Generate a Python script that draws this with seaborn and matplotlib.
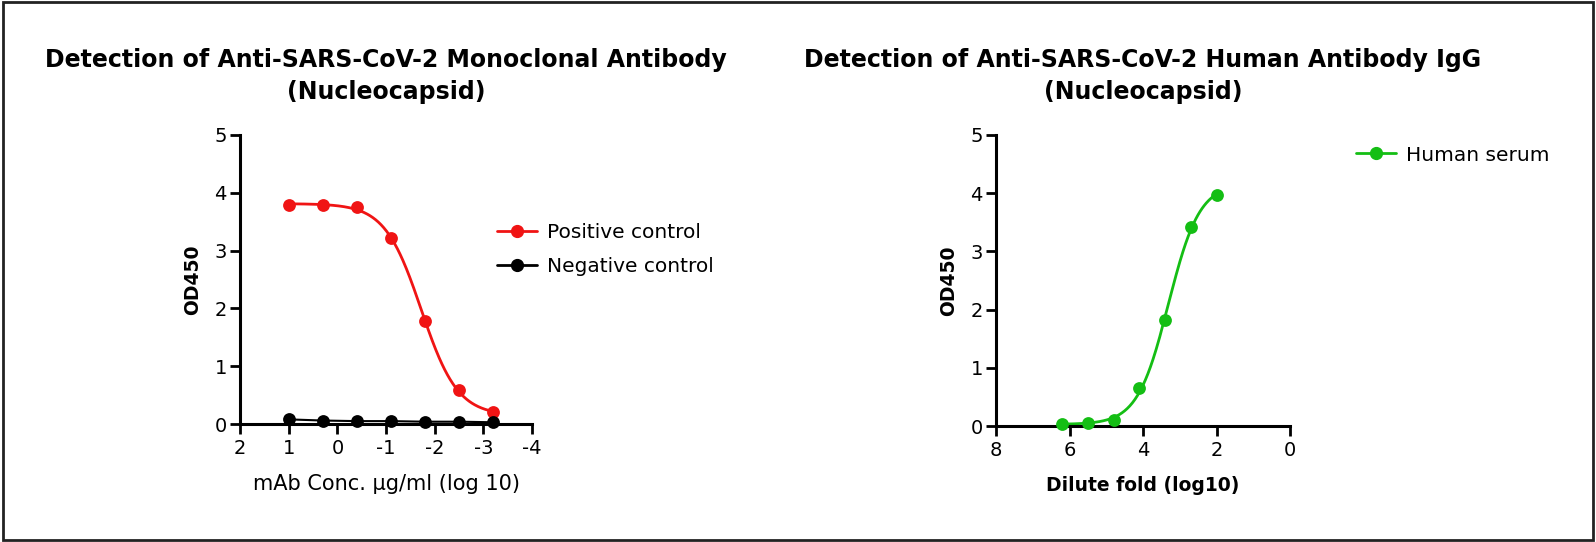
import numpy as np
import pandas as pd
import seaborn as sns
import matplotlib.pyplot as plt
from matplotlib.lines import Line2D
from matplotlib.patches import Rectangle

# data
mab_log_conc = [1.0, 0.3, -0.4, -1.1, -1.8, -2.5, -3.2]
positive_od = [3.78, 3.78, 3.76, 3.22, 1.78, 0.58, 0.20]
negative_od = [0.08, 0.06, 0.05, 0.05, 0.04, 0.04, 0.03]

serum_log_dilution = [6.2, 5.5, 4.8, 4.1, 3.4, 2.7, 2.0]
serum_od = [0.04, 0.05, 0.10, 0.65, 1.82, 3.42, 3.96]

RED = "#f01414"
GREEN = "#14be14"


def four_pl(x, p):
    bottom, top, logec, hill = p
    return bottom + (top - bottom) / (1 + 10 ** ((logec - x) * hill))


def fit_four_pl(x, y, p0):
    # small Levenberg-Marquardt loop, enough for 7 points
    x = np.asarray(x, float)
    y = np.asarray(y, float)
    p = np.array(p0, float)
    lam = 1e-3
    sse = np.sum((y - four_pl(x, p)) ** 2)
    for _ in range(500):
        r = y - four_pl(x, p)
        J = np.empty((len(x), 4))
        for k in range(4):
            dp = np.zeros(4)
            dp[k] = 1e-6 * max(1.0, abs(p[k]))
            J[:, k] = (four_pl(x, p + dp) - four_pl(x, p - dp)) / (2 * dp[k])
        A = J.T @ J
        g = J.T @ r
        step = np.linalg.solve(A + lam * np.diag(np.diag(A) + 1e-12), g)
        new = p + step
        new_sse = np.sum((y - four_pl(x, new)) ** 2)
        if new_sse < sse:
            p, sse = new, new_sse
            lam *= 0.3
        else:
            lam *= 10
    return p


sns.set_style("ticks")
plt.rcParams["font.family"] = ["DejaVu Sans"]
plt.rcParams["text.color"] = "black"
plt.rcParams["axes.labelcolor"] = "black"

fig = plt.figure(figsize=(15.96, 5.42), dpi=100)
ax1 = fig.add_axes([0.1504, 0.2177, 0.183, 0.5333])
ax2 = fig.add_axes([0.6241, 0.2140, 0.1842, 0.5370])

# left panel
p_pos = fit_four_pl(mab_log_conc, positive_od, [0.1, 3.8, -1.7, 1.3])
xs = np.linspace(min(mab_log_conc), max(mab_log_conc), 300)
fit_pos = pd.DataFrame({"x": xs, "y": four_pl(xs, p_pos)})
sns.lineplot(data=fit_pos, x="x", y="y", color=RED, lw=2, ax=ax1)
sns.lineplot(x=mab_log_conc, y=negative_od, color="black", lw=1.5, ax=ax1)
sns.scatterplot(x=mab_log_conc, y=positive_od, color=RED, s=85,
                edgecolor=RED, linewidth=0, ax=ax1, zorder=5, clip_on=False)
sns.scatterplot(x=mab_log_conc, y=negative_od, color="black", s=85,
                edgecolor="black", linewidth=0, ax=ax1, zorder=6, clip_on=False)

ax1.set_xlim(2, -4)
ax1.set_ylim(0, 5)
ax1.set_xticks([2, 1, 0, -1, -2, -3, -4])
ax1.set_xticklabels(["2", "1", "0", "-1", "-2", "-3", "-4"])
ax1.set_title("Detection of Anti-SARS-CoV-2 Monoclonal Antibody\n(Nucleocapsid)",
              fontsize=17, fontweight="bold", pad=26, linespacing=1.42)
ax1.set_xlabel("mAb Conc. μg/ml (log 10)", fontsize=15, labelpad=12)
ax1.set_ylabel("OD450", fontsize=13.5, fontweight="bold", labelpad=9)

handles1 = [
    Line2D([], [], color=RED, lw=2, marker="o", markersize=8.5),
    Line2D([], [], color="black", lw=2, marker="o", markersize=8.5),
]
ax1.legend(handles1, ["Positive control", "Negative control"], loc="center left",
           bbox_to_anchor=(0.300, 0.540), bbox_transform=fig.transFigure,
           frameon=False, fontsize=14.5, handlelength=2.0, handletextpad=0.5,
           labelspacing=0.75)

# right panel
p_ser = fit_four_pl(serum_log_dilution, serum_od, [0.03, 4.2, 3.3, -1.0])
xs2 = np.linspace(min(serum_log_dilution), max(serum_log_dilution), 300)
fit_ser = pd.DataFrame({"x": xs2, "y": four_pl(xs2, p_ser)})
sns.lineplot(data=fit_ser, x="x", y="y", color=GREEN, lw=2, ax=ax2)
sns.scatterplot(x=serum_log_dilution, y=serum_od, color=GREEN, s=85,
                edgecolor=GREEN, linewidth=0, ax=ax2, zorder=5, clip_on=False)

ax2.set_xlim(8, 0)
ax2.set_ylim(0, 5)
ax2.set_xticks([8, 6, 4, 2, 0])
ax2.set_title("Detection of Anti-SARS-CoV-2 Human Antibody IgG\n(Nucleocapsid)",
              fontsize=17, fontweight="bold", pad=26, linespacing=1.42)
ax2.set_xlabel("Dilute fold (log10)", fontsize=13.5, fontweight="bold", labelpad=12)
ax2.set_ylabel("OD450", fontsize=13.5, fontweight="bold", labelpad=9)

handles2 = [Line2D([], [], color=GREEN, lw=2, marker="o", markersize=8.5)]
ax2.legend(handles2, ["Human serum"], loc="center left",
           bbox_to_anchor=(0.838, 0.714), bbox_transform=fig.transFigure,
           frameon=False, fontsize=14.5, handlelength=2.0, handletextpad=0.5)

for ax in (ax1, ax2):
    sns.despine(ax=ax)
    ax.spines["left"].set_linewidth(2.2)
    ax.spines["bottom"].set_linewidth(2.2)
    ax.spines["left"].set_color("black")
    ax.spines["bottom"].set_color("black")
    ax.tick_params(axis="both", direction="out", length=7, width=2,
                   labelsize=14, color="black", labelcolor="black")
    ax.tick_params(axis="y", pad=2.5)
    ax.set_yticks([0, 1, 2, 3, 4, 5])

# outer frame
fig.patches.append(Rectangle((0.002, 0.004), 0.996, 0.992, transform=fig.transFigure,
                             fill=False, edgecolor="#222222", lw=2))

fig.savefig("out.png", dpi=100)
